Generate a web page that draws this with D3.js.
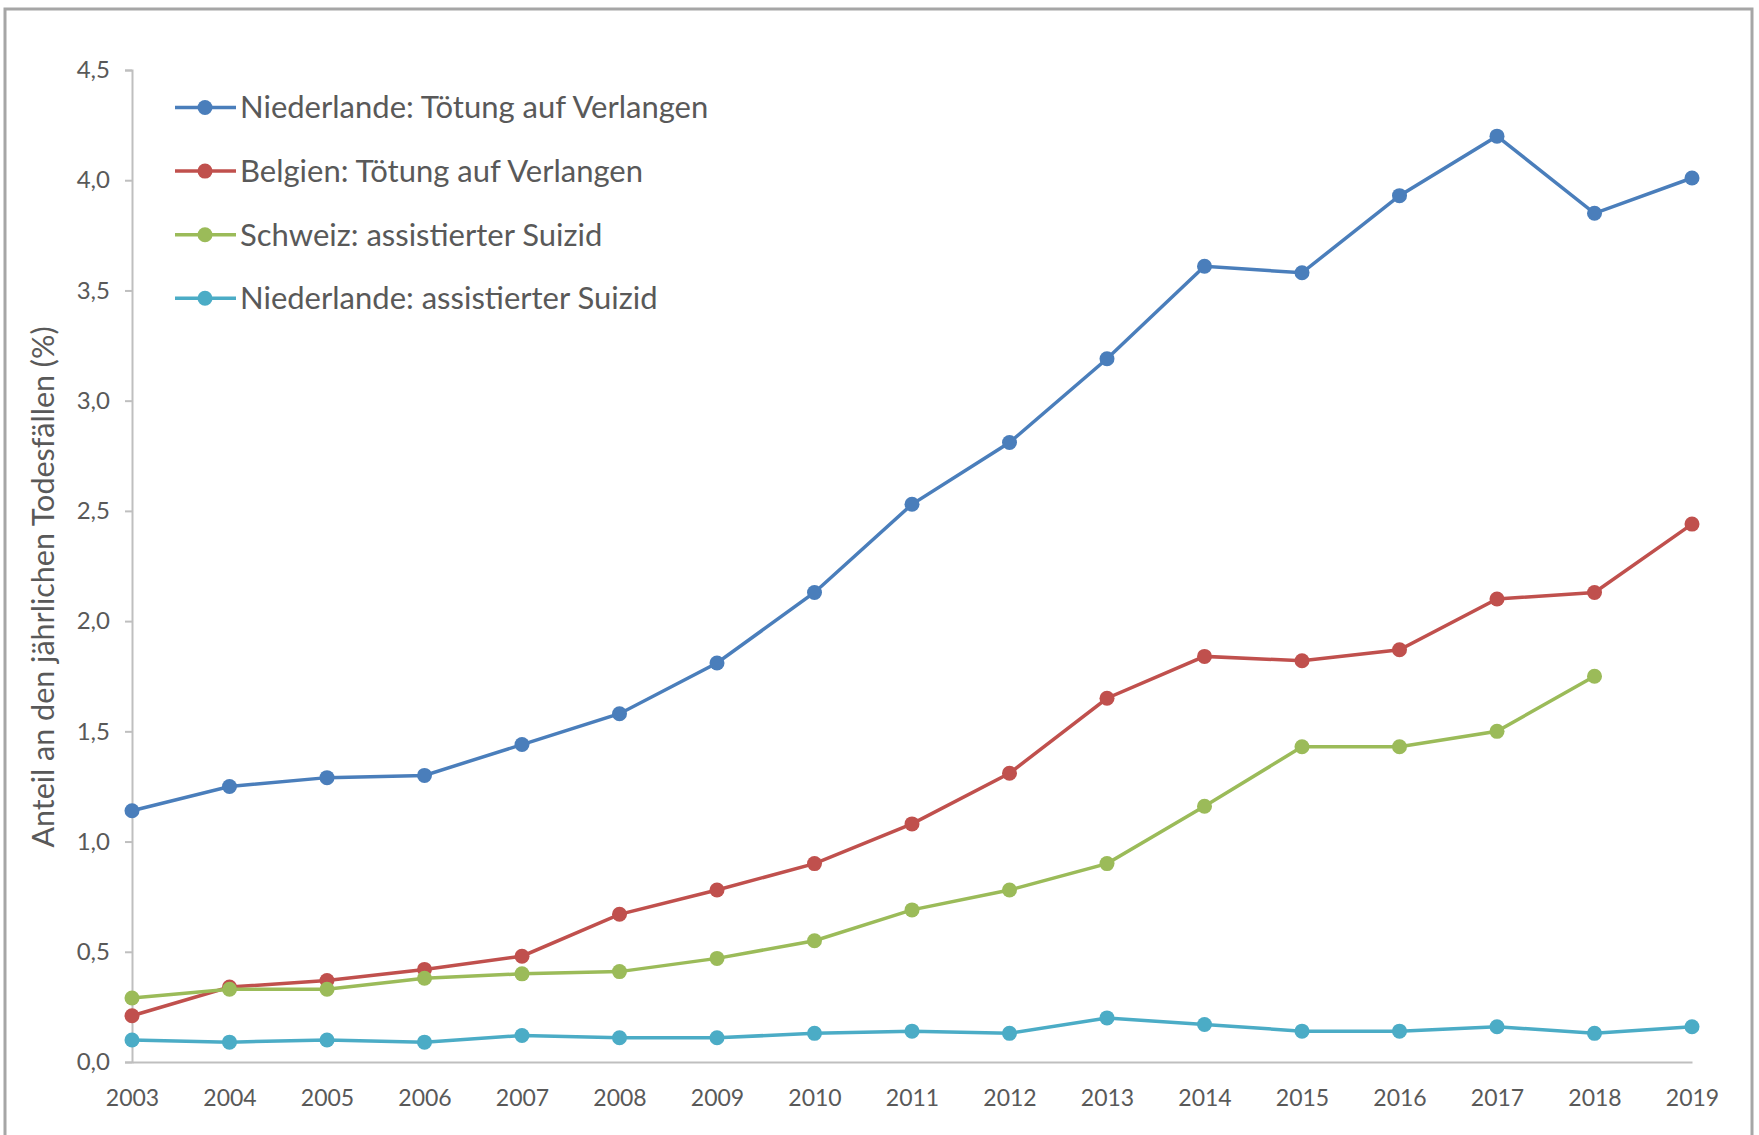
<!DOCTYPE html>
<html>
<head>
<meta charset="utf-8">
<script src="https://cdn.jsdelivr.net/npm/d3@7"></script>
<style>
  body { margin: 0; background: #fff; }
  text { font-family: Lato, "Open Sans", sans-serif; fill: #595959; }
  .axis path, .axis line { stroke: #bfbfbf; stroke-width: 2px; }
</style>
</head>
<body>
<svg id="chart" width="1759" height="1135"></svg>
<script>
const years = [2003, 2004, 2005, 2006, 2007, 2008, 2009, 2010, 2011, 2012, 2013, 2014, 2015, 2016, 2017, 2018, 2019];

const nlEuthanasia = [1.14, 1.25, 1.29, 1.30, 1.44, 1.58, 1.81, 2.13, 2.53, 2.81, 3.19, 3.61, 3.58, 3.93, 4.20, 3.85, 4.01];
const beEuthanasia = [0.21, 0.34, 0.37, 0.42, 0.48, 0.67, 0.78, 0.90, 1.08, 1.31, 1.65, 1.84, 1.82, 1.87, 2.10, 2.13, 2.44];
const chAssisted = [0.29, 0.33, 0.33, 0.38, 0.40, 0.41, 0.47, 0.55, 0.69, 0.78, 0.90, 1.16, 1.43, 1.43, 1.50, 1.75, null];
const nlAssisted = [0.10, 0.09, 0.10, 0.09, 0.12, 0.11, 0.11, 0.13, 0.14, 0.13, 0.20, 0.17, 0.14, 0.14, 0.16, 0.13, 0.16];

const seriesNames = [
  'Niederlande: Tötung auf Verlangen',
  'Belgien: Tötung auf Verlangen',
  'Schweiz: assistierter Suizid',
  'Niederlande: assistierter Suizid',
];
const seriesColors = ['#4a7ebb', '#c0504d', '#9bbb59', '#4bacc6'];
const yTicks = [0, 0.5, 1, 1.5, 2, 2.5, 3, 3.5, 4, 4.5];
const yTitle = 'Anteil an den jährlichen Todesfällen (%)';

const series = [nlEuthanasia, beEuthanasia, chAssisted, nlAssisted].map((vals, i) => ({
  name: seriesNames[i],
  color: seriesColors[i],
  values: years.map((year, j) => ({ year, value: vals[j] })).filter(d => d.value != null),
}));

const svg = d3.select('#chart');

// outer frame
svg.append('rect')
  .attr('x', 5).attr('y', 9)
  .attr('width', 1747).attr('height', 1160)
  .attr('fill', '#fff')
  .attr('stroke', '#a6a6a6')
  .attr('stroke-width', 3);

const x = d3.scalePoint().domain(years).range([132, 1692]);
const y = d3.scaleLinear().domain([0, 4.5]).range([1062, 70]);

const fmt = d3.format('.1f');

svg.append('g')
  .attr('class', 'axis axis--y')
  .attr('transform', 'translate(132,0)')
  .call(d3.axisLeft(y).tickValues(yTicks).tickSize(7).tickPadding(15)
    .tickFormat(d => fmt(d).replace('.', ',')))
  .call(g => g.selectAll('text').attr('font-size', '24px').style('fill', '#595959'));

svg.append('g')
  .attr('class', 'axis axis--x')
  .attr('transform', `translate(0,${y(0)})`)
  .call(d3.axisBottom(x).tickSize(0).tickPadding(28))
  .call(g => g.selectAll('text').attr('font-size', '23px').style('fill', '#595959'));

svg.append('text')
  .attr('transform', `translate(54,587) rotate(-90)`)
  .attr('text-anchor', 'middle')
  .attr('font-size', '30.5px')
  .text(yTitle);

const line = d3.line()
  .x(d => x(d.year))
  .y(d => y(d.value));

const s = svg.selectAll('.series')
  .data(series)
  .enter().append('g')
    .attr('class', 'series');

s.append('path')
  .attr('fill', 'none')
  .attr('stroke', d => d.color)
  .attr('stroke-width', 3.5)
  .attr('d', d => line(d.values));

s.selectAll('circle')
  .data(d => d.values.map(v => ({ ...v, color: d.color })))
  .enter().append('circle')
    .attr('cx', d => x(d.year))
    .attr('cy', d => y(d.value))
    .attr('r', 7.5)
    .attr('fill', d => d.color);

// legend
const legend = svg.append('g').attr('class', 'legend')
  .selectAll('g')
  .data(series)
  .enter().append('g')
    .attr('transform', (d, i) => `translate(0,${107.5 + i * 63.6})`);

legend.append('line')
  .attr('x1', 175).attr('x2', 236)
  .attr('stroke', d => d.color)
  .attr('stroke-width', 3.5);

legend.append('circle')
  .attr('cx', 205).attr('r', 7.5)
  .attr('fill', d => d.color);

legend.append('text')
  .attr('x', 240)
  .attr('dy', '0.35em')
  .attr('font-size', '31px')
  .text(d => d.name);
</script>
</body>
</html>
